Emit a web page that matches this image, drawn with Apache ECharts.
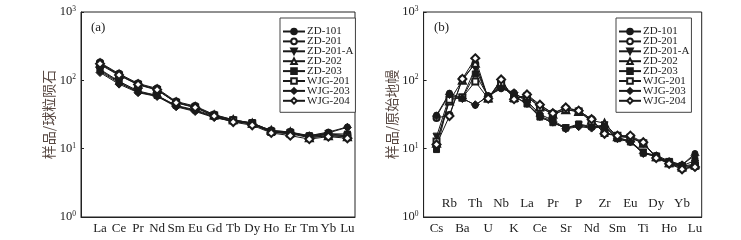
<!DOCTYPE html>
<html><head><meta charset="utf-8">
<script src="https://cdn.jsdelivr.net/npm/echarts@6/dist/echarts.min.js"></script>
<style>html,body{margin:0;padding:0;background:#fff}#c{width:741px;height:240px}</style>
</head><body><div id="c"></div>
<script>
const reeCats = ['La','Ce','Pr','Nd','Sm','Eu','Gd','Tb','Dy','Ho','Er','Tm','Yb','Lu'];
const spiderCats = ['Cs','Rb','Ba','Th','U','Nb','K','La','Ce','Pr','Sr','P','Nd','Zr','Sm','Eu','Ti','Dy','Ho','Yb','Lu'];
const sampleNames = ['ZD-101','ZD-201','ZD-201-A','ZD-202','ZD-203','WJG-201','WJG-203','WJG-204'];

// (a) chondrite-normalized REE
const reeZD101   = [140, 95, 68, 60, 42, 36, 29, 25, 23, 17.5, 16.5, 15.5, 17.5, 20.8];
const reeZD201   = [182, 125, 90, 76, 49, 42, 31.5, 26.5, 23.5, 18.5, 17.5, 15, 16, 15.5];
const reeZD201A  = [135, 92, 67, 59, 42, 36, 29, 25.5, 23.5, 17.8, 17, 15, 16.5, 15.5];
const reeZD202   = [178, 122, 88, 74, 48, 41, 31, 26.5, 23.5, 18.5, 17.5, 14.5, 15.5, 15];
const reeZD203   = [145, 97, 70, 60, 43, 37, 30, 26, 24, 18, 17.5, 15.5, 16.5, 16.4];
const reeWJG201  = [170, 118, 86, 72, 47, 40, 30.5, 26, 23, 17.5, 16.5, 14.5, 15.5, 15];
const reeWJG203  = [130, 88, 66, 58, 41, 35, 28.5, 25, 23, 17.5, 17, 15.5, 17, 20.5];
const reeWJG204  = [175, 120, 87, 73, 47, 40, 30, 24.5, 22, 17, 15.5, 13.8, 15, 14.2];

// (b) primitive-mantle-normalized spider
const spZD101  = [31, 65, 55, 43, 60, 75, 66, 50, 32, 26, 20, 22, 21, 22, 14.5, 13, 8.8, 8.0, 6.6, 5.8, 8.5];
const spZD201  = [28, 31, 105, 175, 55, 100, 55, 60, 43, 33, 39, 36, 27, 17, 15.5, 15, 12, 7.4, 6.1, 5.1, 5.5];
const spZD201A = [15, 58, 56, 150, 57, 85, 58, 45, 29, 24, 20, 22, 20.5, 22, 14.5, 12.8, 8.8, 7.7, 6.4, 5.5, 6.0];
const spZD202  = [12, 50, 100, 178, 55, 95, 56, 58, 41, 32, 37, 35, 26, 23.5, 15, 14.5, 12, 7.6, 6.2, 5.4, 5.8];
const spZD203  = [9.7, 55, 55, 124, 58, 80, 60, 45, 29, 24, 20, 23, 21, 21, 14, 12.5, 8.6, 7.6, 6.3, 5.6, 6.7];
const spWJG201 = [12.7, 52, 56, 96, 54, 90, 54, 58, 40, 32, 37, 35, 25, 17, 15.5, 14.5, 12, 7.5, 6.1, 5.3, 5.6];
const spWJG203 = [30, 62, 54, 44, 58, 78, 66, 48, 30, 25, 19.5, 21, 20, 21, 14, 12.5, 8.5, 7.8, 6.4, 5.8, 8.0];
const spWJG204 = [11.5, 30, 105, 210, 54, 103, 53, 62, 44, 33, 40, 36, 27, 16.5, 15.5, 15.5, 12.4, 7.3, 6.0, 5.0, 5.4];

const reeData = [reeZD101, reeZD201, reeZD201A, reeZD202, reeZD203, reeWJG201, reeWJG203, reeWJG204];
const spData = [spZD101, spZD201, spZD201A, spZD202, spZD203, spWJG201, spWJG203, spWJG204];

const symbols = [
  {symbol:'circle', size:6, rot:0},
  {symbol:'emptyCircle', size:6, rot:0},
  {symbol:'triangle', size:7, rot:180},
  {symbol:'emptyTriangle', size:7, rot:0},
  {symbol:'rect', size:6, rot:0},
  {symbol:'emptyRect', size:6, rot:0},
  {symbol:'diamond', size:8, rot:0},
  {symbol:'emptyDiamond', size:8, rot:0}
];

const SERIF = '"Liberation Serif","DejaVu Serif",serif';
const CJK = '"Noto Sans CJK SC","Noto Sans CJK JP",sans-serif';

function yAxis(gi, name, gap){
  return {
    type:'log', logBase:10, min:1, max:1000, gridIndex:gi,
    name:name, nameLocation:'middle', nameGap:gap, nameRotate:90,
    nameTextStyle:{fontFamily:CJK, fontSize:14, color:'#5a4a44'},
    axisLine:{show:true, onZero:false, lineStyle:{color:'#222', width:1}},
    axisTick:{show:true, inside:true, length:3, lineStyle:{color:'#222'}},
    minorTick:{show:false}, splitLine:{show:false},
    axisLabel:{
      margin:5,
      formatter:function(v){ const e = Math.round(Math.log10(v)); return '{b|10}{s|'+e+'}'; },
      rich:{ b:{fontFamily:SERIF, fontSize:12.5, color:'#222', lineHeight:14},
             s:{fontFamily:SERIF, fontSize:7.5, color:'#222', verticalAlign:'top', lineHeight:14, padding:[0,0,6,0]} }
    }
  };
}
function xAxisBase(gi, cats, maxv, filterFn, inside, margin){
  return {
    type:'value', gridIndex:gi, min:-1, max:maxv, interval:1, position:'bottom',
    axisLine:{show:true, onZero:false, lineStyle:{color:'#222', width:1}},
    axisTick:{show:false}, splitLine:{show:false},
    axisLabel:{
      inside:inside, margin:margin, showMinLabel:true, showMaxLabel:true,
      fontFamily:SERIF, fontSize:13, color:'#222',
      formatter:function(v){ const i = Math.round(v); if (Math.abs(v-i)>1e-6) return ''; if (i<0 || i>=cats.length) return ''; return filterFn(i) ? cats[i] : ''; }
    }
  };
}

const series = [];
function addSeries(dataList, axisIdx){
  dataList.forEach(function(arr, k){
    series.push({
      name: sampleNames[k], type:'line', xAxisIndex:axisIdx, yAxisIndex:axisIdx,
      data: arr.map(function(v,i){return [i, v];}),
      symbol: symbols[k].symbol, symbolSize: symbols[k].size, symbolRotate: symbols[k].rot,
      lineStyle:{color:'#1a1a1a', width:1}, itemStyle:{color:'#1a1a1a', borderColor:'#1a1a1a', borderWidth:1},
      emphasis:{disabled:true}, animation:false
    });
  });
}
addSeries(reeData, 0);
addSeries(spData, 1);

function legend(left){
  return {
    orient:'vertical', left:left, top:18, data:sampleNames,
    itemWidth:22, itemHeight:7, itemGap:-1.1,
    padding:[8,2,6,2], borderColor:'#444', borderWidth:1, backgroundColor:'#fff',
    textStyle:{fontFamily:SERIF, fontSize:11, color:'#222', lineHeight:8, padding:[0,0,0,-3]},
    selectedMode:false
  };
}

const chart = echarts.init(document.getElementById('c'), null, {renderer:'canvas'});
chart.setOption({
  animation:false,
  backgroundColor:'#fff',
  title:[
    {text:'(a)', left:86, top:16, textStyle:{fontFamily:SERIF, fontSize:13, fontWeight:'normal', color:'#222'}},
    {text:'(b)', left:429, top:16, textStyle:{fontFamily:SERIF, fontSize:13, fontWeight:'normal', color:'#222'}}
  ],
  grid:[
    {left:81, width:274, top:12, height:205, show:true, borderColor:'#222', borderWidth:1, backgroundColor:'transparent'},
    {left:423.6, width:278.1, top:12, height:205, show:true, borderColor:'#222', borderWidth:1, backgroundColor:'transparent'}
  ],
  xAxis:[
    xAxisBase(0, reeCats, 13.4, function(){return true;}, false, 5),
    xAxisBase(1, spiderCats, 20.52, function(i){return i%2===0;}, false, 5),
    Object.assign(xAxisBase(1, spiderCats, 20.52, function(i){return i%2===1;}, true, 7), {axisLine:{show:false}})
  ],
  yAxis:[ yAxis(0, '样品/球粒陨石', 19), yAxis(1, '样品/原始地幔', 24) ],
  legend:[ legend(280), legend(616) ],
  series:series
});
</script></body></html>
